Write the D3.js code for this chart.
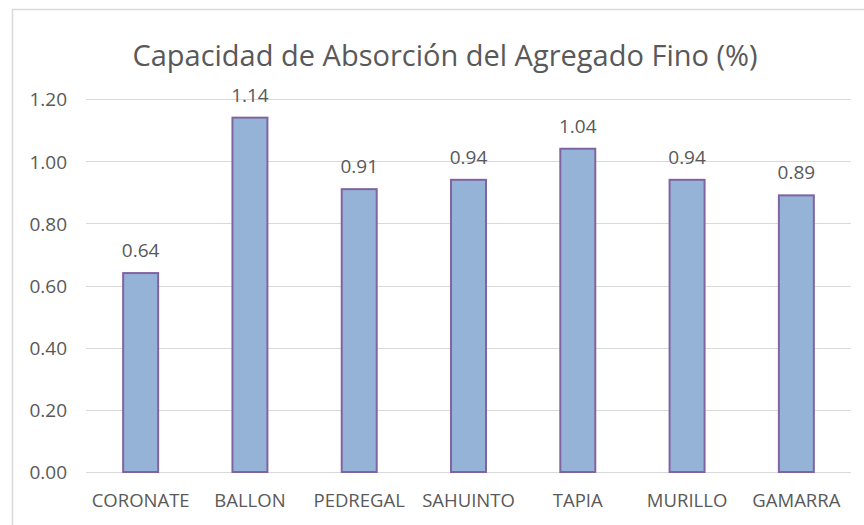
<!DOCTYPE html>
<html>
<head>
<meta charset="utf-8">
<script src="https://cdn.jsdelivr.net/npm/d3@7"></script>
<style>
  html, body { margin: 0; padding: 0; background: #fff; }
  svg { display: block; }
  svg text { font-family: "Open Sans", "Noto Sans", sans-serif; }
</style>
</head>
<body>
<div id="chart"></div>
<script>
const categories = ["CORONATE", "BALLON", "PEDREGAL", "SAHUINTO", "TAPIA", "MURILLO", "GAMARRA"];
const values = [0.64, 1.14, 0.91, 0.94, 1.04, 0.94, 0.89];
const yTicks = [0, 0.2, 0.4, 0.6, 0.8, 1.0, 1.2];
const title = "Capacidad de Absorción del Agregado Fino (%)";

const width = 864, height = 525;
const margin = { left: 86, right: 13, top: 99, bottom: 53 };
const textColor = "#595959";
const fmt = d3.format(".2f");

const svg = d3.select("#chart").append("svg")
  .attr("width", width)
  .attr("height", height);

// marco del gráfico (solo se ven el borde superior e izquierdo)
svg.append("rect")
  .attr("x", 12.5).attr("y", 9.5)
  .attr("width", width + 20).attr("height", height + 20)
  .attr("fill", "#fff")
  .attr("stroke", "#d9d9d9")
  .attr("stroke-width", 1.5);

const x = d3.scaleBand()
  .domain(categories)
  .range([margin.left, width - margin.right])
  .paddingInner(0.68)
  .paddingOuter(0.34);

const y = d3.scaleLinear()
  .domain([0, 1.2])
  .range([height - margin.bottom, margin.top]);

// rejilla horizontal
svg.append("g")
  .selectAll("line")
  .data(yTicks)
  .join("line")
  .attr("x1", margin.left)
  .attr("x2", width - margin.right)
  .attr("y1", d => Math.round(y(d)) + 0.5)
  .attr("y2", d => Math.round(y(d)) + 0.5)
  .attr("stroke", "#d9d9d9")
  .attr("stroke-width", 1);

// eje Y
const yAxis = svg.append("g")
  .attr("transform", `translate(${margin.left - 19},0)`)
  .call(d3.axisLeft(y).tickValues(yTicks).tickFormat(fmt).tickSize(0).tickPadding(0));
yAxis.select(".domain").remove();
yAxis.attr("font-family", null);
yAxis.selectAll("text")
  .attr("fill", textColor)
  .attr("dy", "0.36em")
  .style("font-size", "19px");

// eje X
const xAxis = svg.append("g")
  .attr("transform", `translate(0,${height - margin.bottom})`)
  .call(d3.axisBottom(x).tickSize(0).tickPadding(0));
xAxis.select(".domain").remove();
xAxis.attr("font-family", null);
xAxis.selectAll("text")
  .attr("fill", textColor)
  .attr("dy", null)
  .attr("y", 35)
  .style("font-size", "18.5px");

// barras
svg.append("g")
  .selectAll("rect")
  .data(values)
  .join("rect")
  .attr("x", (d, i) => x(categories[i]))
  .attr("y", d => y(d))
  .attr("width", x.bandwidth())
  .attr("height", d => y(0) - y(d))
  .attr("fill", "#95b3d7")
  .attr("stroke", "#8064a2")
  .attr("stroke-width", 2);

// etiquetas de datos
svg.append("g")
  .selectAll("text")
  .data(values)
  .join("text")
  .attr("x", (d, i) => x(categories[i]) + x.bandwidth() / 2)
  .attr("y", d => y(d) - 16)
  .attr("text-anchor", "middle")
  .attr("fill", textColor)
  .style("font-size", "19px")
  .text(d => fmt(d));

// título
svg.append("text")
  .attr("x", 445)
  .attr("y", 66)
  .attr("text-anchor", "middle")
  .attr("fill", textColor)
  .style("font-size", "29px")
  .text(title);
</script>
</body>
</html>
